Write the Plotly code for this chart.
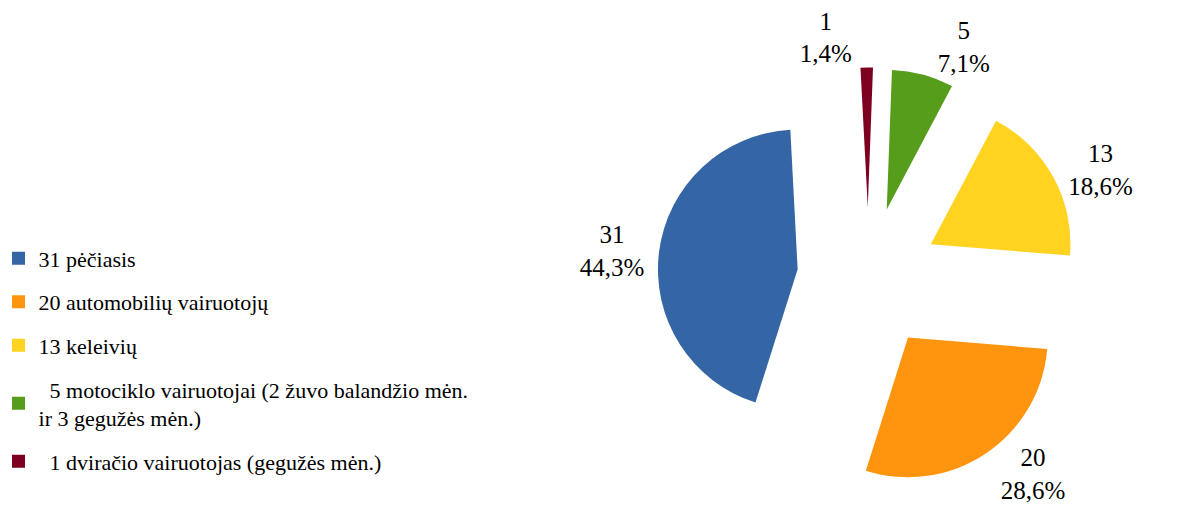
import plotly.graph_objects as go

categories = [
    "31 pėčiasis",
    "20 automobilių vairuotojų",
    "13 keleivių",
    "\u00a0\u00a05 motociklo vairuotojai (2 žuvo balandžio mėn.<br>ir 3 gegužės mėn.)",
    "\u00a0\u00a01 dviračio vairuotojas (gegužės mėn.)",
]
values = [31, 20, 13, 5, 1]
colors = ["#3465A4", "#FF950E", "#FFD320", "#579D1C", "#7E0021"]

FONT = "Liberation Serif, Times New Roman, serif"

# first slice ends at 12 o'clock going counter-clockwise; nudge slightly so the
# small last slice sits just left of the top
rotation = 360 - 360 * values[0] / sum(values) - 3

fig = go.Figure()
fig.add_trace(go.Pie(
    labels=categories,
    values=values,
    sort=False,
    direction="counterclockwise",
    rotation=rotation,
    pull=[0.51] * len(values),
    marker=dict(colors=colors, line=dict(width=0)),
    textposition="outside",
    automargin=False,
    texttemplate="%{value}<br>%{percent:.1%}",
    textfont=dict(family=FONT, size=25, color="#000000"),
    domain=dict(x=[0.548, 0.904], y=[0.085, 0.887]),
    hoverinfo="label+value+percent",
    showlegend=False,
))

# legend entries (one per category) so item spacing can match the reference
for name, col in zip(categories, colors):
    fig.add_trace(go.Scatter(
        x=[None], y=[None], mode="markers", name=name,
        legendgroup=name,
        marker=dict(symbol="square", size=13, color=col),
        hoverinfo="skip",
    ))

fig.update_layout(
    width=1185,
    height=526,
    separators=", ",
    margin=dict(l=0, r=0, t=0, b=0, autoexpand=False),
    paper_bgcolor="#FFFFFF",
    plot_bgcolor="#FFFFFF",
    font=dict(family=FONT, size=22, color="#000000"),
    showlegend=True,
    xaxis=dict(visible=False),
    yaxis=dict(visible=False),
    legend=dict(
        x=-0.008, y=0.564, xanchor="left", yanchor="top",
        font=dict(family=FONT, size=22, color="#000000"),
        bgcolor="rgba(0,0,0,0)",
        tracegroupgap=12,
        itemclick=False, itemdoubleclick=False,
    ),
)

fig.write_html("out.html")
